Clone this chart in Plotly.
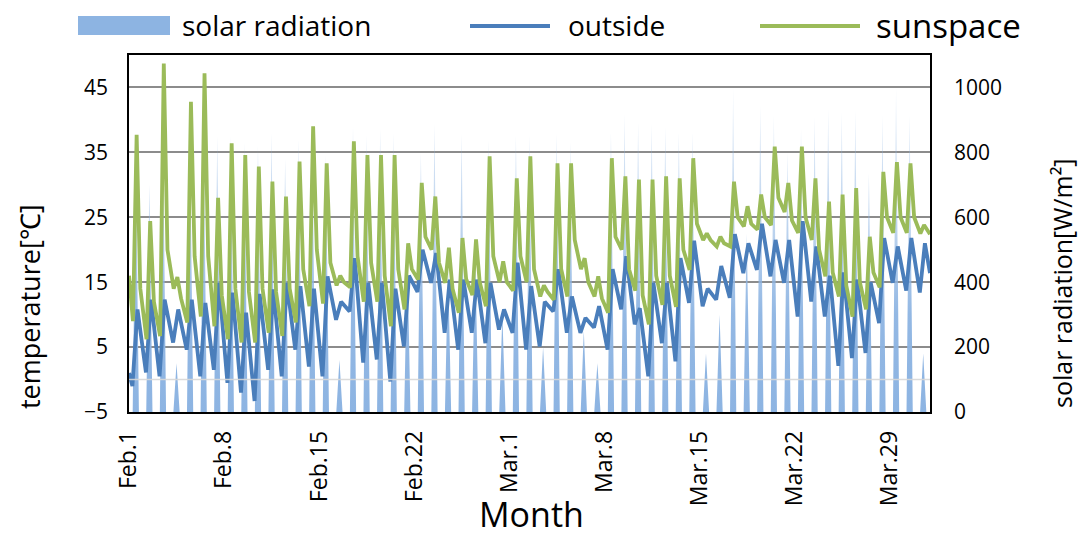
import plotly.graph_objects as go

# ---------------- data ----------------
tick_days = [0, 7, 14, 21, 28, 35, 42, 49, 56]
tick_text = ["Feb.1", "Feb.8", "Feb.15", "Feb.22", "Mar.1", "Mar.8", "Mar.15", "Mar.22", "Mar.29"]

# daily peak of solar radiation [W/m2], Feb.1 ... Mar.31
solar_peak = [800, 700, 880, 150, 850, 880, 850, 850, 830, 820,
              860, 780, 840, 880, 790, 160, 880, 852, 873, 860,
              500, 800, 888, 450, 857, 500, 837, 300, 852, 852,
              200, 857, 832, 250, 150, 862, 919, 893, 888, 878,
              862, 862, 180, 300, 1000, 550, 945, 914, 800, 873,
              909, 934, 924, 929, 735, 914, 1000, 914, 180]

# outside temperature: daily morning minimum and afternoon maximum [degC]
out_start = 1.0
out_min = [-1, 1.1, 0.5, 5.7, 4.6, 0.5, 1.5, -0.5, -2, -3.3,
           1.5, 0.5, 4.6, 2, 0.5, 9.2, 10.5, 2.6, 3.1, -0.3,
           5.1, 13.5, 14.9, 7.2, 4.6, 7.2, 5.6, 7.7, 7.2, 4.6,
           5.1, 10.5, 7.2, 7.2, 8, 4.6, 10.8, 8.5, 0.5, 5.6,
           2.8, 11.8, 11.3, 12.3, 12.6, 16.4, 16.9, 15.9, 14.9, 9.7,
           12, 9.7, 2.1, 3.3, 4.1, 8.7, 14.9, 13.7, 13.4]
out_max = [10.8, 12.3, 12.3, 10.8, 12.3, 11.8, 14.9, 13.4, 10.3, 13.2,
           13.9, 14.9, 14.4, 14, 15.9, 12, 18.7, 14.9, 14.9, 14,
           16, 20, 19.5, 15.4, 15.4, 15.4, 14.9, 10.8, 18, 14.4,
           12, 17, 12.8, 9.5, 11.3, 17, 19, 11, 14.9, 14.9,
           18.7, 21.4, 14, 17.5, 22.4, 21, 24, 21.5, 21.5, 24.4,
           20.5, 16, 16.5, 15.4, 15, 21.8, 20.5, 21.8, 21]
out_end = 16.4

# sunspace temperature: morning minimum, afternoon maximum, evening value [degC]
sun_start = 16.0
sun_min = [9, 6.2, 6.7, 14, 8.8, 9.7, 8.2, 6.2, 5.7, 5.7,
           7.2, 6.7, 8.8, 11.3, 11.7, 14.5, 14.2, 12, 12, 8.2,
           10.8, 15.4, 20, 14.9, 10.3, 13, 11.3, 15, 13.7, 15,
           12.8, 12.3, 12.8, 17, 12.8, 10.3, 20, 13.7, 8.5, 11.5,
           11.2, 16.9, 21.5, 20.5, 20.5, 23.6, 23.1, 23.8, 25.8, 22.6,
           21.5, 15.9, 12.8, 9.7, 10.8, 14.2, 22.6, 22.6, 22.5]
sun_max = [37.7, 24.4, 48.7, 15.8, 42.8, 47.2, 28, 36.4, 34.6, 32.8,
           30.5, 28.2, 33.6, 39, 33.3, 16, 36.7, 34.6, 34.6, 34.6,
           21, 30.3, 28.2, 20.3, 21.8, 21.6, 34.4, 18.2, 31, 34.4,
           14.5, 33.3, 33.3, 18.7, 15.9, 34.1, 31.3, 30.8, 30.8, 31.3,
           31, 34.1, 22.5, 22, 30.5, 26.7, 28.5, 35.9, 30.3, 35.9,
           31, 27.4, 28.5, 29.5, 22, 32, 33.5, 33.3, 23.8]
sun_eve = [14, 12, 20, 12.5, 19, 19, 13, 14, 13.5, 14,
           13.5, 14, 17, 20, 18, 15, 19, 18, 16, 17,
           17, 22, 18, 14, 15.5, 15, 19, 15, 19, 17,
           13.5, 17, 21.5, 15, 12.5, 22, 17, 13, 16, 16,
           20, 24, 21.5, 21, 25, 24, 25, 28, 24.5, 25,
           20, 16.5, 14.5, 15, 16.5, 25, 25, 25, 23]
sun_end = 22.4

# ---------------- build time axes (days since Feb.1 00:00) ----------------
n_days = len(solar_peak)
HOUR = 1.0 / 24.0

sol_x, sol_y = [0.0], [0.0]
for d, p in enumerate(solar_peak):
    sol_x += [d + 6.5 * HOUR, d + 12 * HOUR, d + 17.5 * HOUR]
    sol_y += [0.0, p, 0.0]
sol_x.append(float(n_days)); sol_y.append(0.0)

out_x, out_y = [0.0], [out_start]
for d in range(n_days):
    out_x += [d + 6 * HOUR, d + 15 * HOUR]
    out_y += [out_min[d], out_max[d]]
out_x.append(float(n_days)); out_y.append(out_end)

sun_x, sun_y = [0.0], [sun_start]
for d in range(n_days):
    sun_x += [d + 7 * HOUR, d + 13.5 * HOUR, d + 20 * HOUR]
    sun_y += [sun_min[d], sun_max[d], sun_eve[d]]
sun_x.append(float(n_days)); sun_y.append(sun_end)

# ---------------- figure ----------------
SOLAR_C = "rgb(141,180,226)"
OUT_C = "#4a7ebb"
SUN_C = "#9bbb59"
FONT = "Open Sans"

fig = go.Figure()
fig.add_trace(go.Scatter(
    x=sol_x, y=sol_y, name="solar radiation", mode="lines",
    line=dict(color="rgba(141,180,226,0)", width=0), fill="tozeroy",
    fillgradient=dict(type="vertical", start=0, stop=1000,
                      colorscale=[[0.0, "rgba(141,180,226,1)"],
                                  [0.3, "rgba(141,180,226,0.95)"],
                                  [0.55, "rgba(141,180,226,0.6)"],
                                  [1.0, "rgba(141,180,226,0.2)"]]),
    yaxis="y", showlegend=False))
fig.add_trace(go.Scatter(x=out_x, y=out_y, name="outside", mode="lines",
                         line=dict(color=OUT_C, width=3.8), yaxis="y2", showlegend=False))
fig.add_trace(go.Scatter(x=sun_x, y=sun_y, name="sunspace", mode="lines",
                         line=dict(color=SUN_C, width=3.8), yaxis="y2", showlegend=False))

L, R, T, B = 129, 151, 55, 128
W, H = 1081, 540
PW, PH = W - L - R, H - T - B


def px(xp):
    return (xp - L) / PW


def py(yp):
    return (H - B - yp) / PH


fig.update_layout(
    width=W, height=H,
    margin=dict(l=L, r=R, t=T, b=B),
    paper_bgcolor="white", plot_bgcolor="white",
    font=dict(family=FONT, color="black"),
    xaxis=dict(range=[0, n_days], tickvals=tick_days, ticktext=tick_text,
               tickangle=-90, tickfont=dict(size=23), showgrid=False, zeroline=False,
               showline=True, linecolor="black", linewidth=1.5, mirror=True,
               ticks="", ticklabelstandoff=8),
    yaxis=dict(range=[0, 1100], tickvals=[0, 200, 400, 600, 800, 1000], side="right",
               showgrid=True, gridcolor="#8c8c8c", gridwidth=1.5, zeroline=False,
               showline=True, linecolor="black", linewidth=1.5, mirror=True,
               tickfont=dict(size=21), ticks="", ticklabelstandoff=18),
    yaxis2=dict(range=[-5, 50], tickvals=[-5, 5, 15, 25, 35, 45], side="left",
                overlaying="y", showgrid=False, zeroline=False, showline=False,
                tickfont=dict(size=21), ticks="", ticklabelstandoff=20),
)

# light reference line at 0 degC
fig.add_shape(type="line", xref="paper", yref="y2", x0=0, x1=1, y0=0, y1=0,
              line=dict(color="rgba(215,215,215,0.9)", width=1.5), layer="above")

# axis titles
fig.add_annotation(text="temperature[℃]", x=px(29), y=py(307), xref="paper", yref="paper",
                   textangle=-90, showarrow=False, font=dict(size=27, family=FONT),
                   xanchor="center", yanchor="middle")
fig.add_annotation(text="solar radiation[W/m²]", x=px(1062), y=py(283), xref="paper", yref="paper",
                   textangle=-90, showarrow=False, font=dict(size=25, family=FONT),
                   xanchor="center", yanchor="middle")
fig.add_annotation(text="Month", x=px(531), y=py(514), xref="paper", yref="paper",
                   showarrow=False, font=dict(size=34, family=FONT),
                   xanchor="center", yanchor="middle")

# legend (drawn at the top like the reference)
fig.add_shape(type="rect", xref="paper", yref="paper", x0=px(78), x1=px(170), y0=py(35), y1=py(16),
              fillcolor=SOLAR_C, line=dict(width=0))
fig.add_annotation(text="solar radiation", x=px(180), y=py(25), xref="paper", yref="paper",
                   showarrow=False, xanchor="left", yanchor="middle", font=dict(size=28, family=FONT))
fig.add_shape(type="line", xref="paper", yref="paper", x0=px(470), x1=px(550), y0=py(26), y1=py(26),
              line=dict(color=OUT_C, width=4))
fig.add_annotation(text="outside", x=px(566), y=py(25), xref="paper", yref="paper",
                   showarrow=False, xanchor="left", yanchor="middle", font=dict(size=28, family=FONT))
fig.add_shape(type="line", xref="paper", yref="paper", x0=px(760), x1=px(860), y0=py(26), y1=py(26),
              line=dict(color=SUN_C, width=4))
fig.add_annotation(text="sunspace", x=px(874), y=py(25), xref="paper", yref="paper",
                   showarrow=False, xanchor="left", yanchor="middle", font=dict(size=33, family=FONT))

fig.write_html("out.html")
